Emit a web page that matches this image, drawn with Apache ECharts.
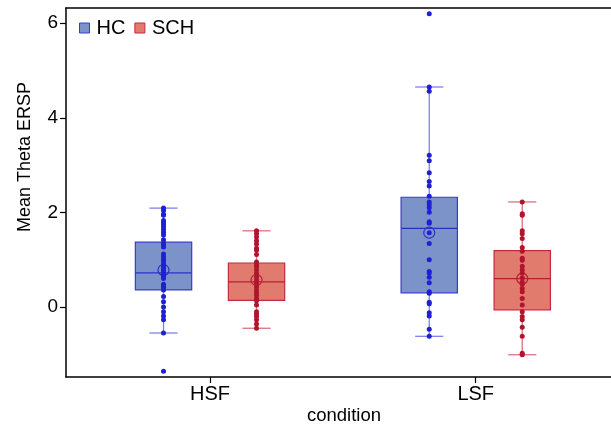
<!DOCTYPE html>
<html>
<head>
<meta charset="utf-8">
<script src="https://cdn.jsdelivr.net/npm/echarts@6/dist/echarts.min.js"></script>
<style>html,body{margin:0;padding:0;background:#fff}#c{width:611px;height:429px}</style>
</head>
<body>
<div id="c"></div>
<script>
const categories = ['HSF', 'LSF'];
const groups = ['HC', 'SCH'];
const yTicks = [0, 2, 4, 6];

// individual subject values
const hcHSF = [2.09, 2.04, 1.96, 1.94, 1.83, 1.78, 1.74, 1.69, 1.64, 1.58, 1.52, 1.42, 1.35, 1.31, 1.27, 1.12, 1.06, 1.01, 0.97, 0.91, 0.86, 0.81, 0.76, 0.69, 0.65, 0.60, 0.48, 0.45, 0.41, 0.36, 0.22, 0.11, 0.00, -0.10, -0.19, -0.27, -0.55, -1.36];
const hcLSF = [6.20, 4.65, 4.56, 3.21, 3.09, 2.84, 2.65, 2.56, 2.34, 2.22, 2.16, 2.10, 2.00, 1.80, 1.77, 1.57, 1.34, 1.00, 0.75, 0.72, 0.63, 0.51, 0.32, 0.29, 0.10, 0.07, -0.12, -0.19, -0.47, -0.62];
const schHSF = [1.61, 1.55, 1.48, 1.40, 1.33, 1.24, 1.20, 1.11, 0.95, 0.89, 0.85, 0.78, 0.71, 0.64, 0.57, 0.50, 0.43, 0.36, 0.30, 0.25, 0.18, 0.13, 0.04, -0.10, -0.15, -0.20, -0.27, -0.36, -0.45];
const schLSF = [2.22, 1.97, 1.94, 1.61, 1.55, 1.45, 1.26, 1.18, 1.03, 0.99, 0.86, 0.78, 0.72, 0.62, 0.53, 0.48, 0.39, 0.32, 0.18, 0.04, -0.10, -0.20, -0.27, -0.43, -0.62, -0.98, -1.01];

// box statistics per condition: [lower whisker, Q1, median, Q3, upper whisker]
const hcBox = [[-0.55, 0.36, 0.72, 1.37, 2.09], [-0.62, 0.30, 1.66, 2.32, 4.65]];
const schBox = [[-0.45, 0.14, 0.53, 0.93, 1.61], [-1.01, -0.06, 0.60, 1.19, 2.22]];
const hcMean = [0.78, 1.57];
const schMean = [0.57, 0.60];

const hcPoints = [hcHSF, hcLSF];
const schPoints = [schHSF, schLSF];

// layout / style
const DODGE = 0.175;
const BOX_W = 0.212;
const FONT = 'Liberation Sans, Arial, sans-serif';
const styles = {
  HC: { fill: '#7b93c9', border: '#3a3ad0', median: '#2f2fc8', whisker: '#8080ec', point: '#1f1fd8' },
  SCH: { fill: '#e07b6e', border: '#c42a3c', median: '#b81f33', whisker: '#da7280', point: '#b0152c' }
};

function boxData(box, mean, off) {
  return box.map((b, i) => [i + 1 + off].concat(b).concat([mean[i]]));
}
function pointData(pts, off) {
  const out = [];
  pts.forEach((arr, i) => arr.forEach(v => out.push([i + 1 + off, v])));
  return out;
}
function makeRender(st) {
  return function (params, api) {
    const x = api.value(0);
    const p = [1, 2, 3, 4, 5, 6].map(k => api.coord([x, api.value(k)]));
    const cx = p[0][0];
    const hw = api.size([BOX_W, 0])[0] / 2;
    const cw = hw / 2;
    const wl = { stroke: st.whisker, lineWidth: 1.3 };
    return {
      type: 'group',
      children: [
        { type: 'line', shape: { x1: cx, y1: p[0][1], x2: cx, y2: p[1][1] }, style: wl },
        { type: 'line', shape: { x1: cx, y1: p[3][1], x2: cx, y2: p[4][1] }, style: wl },
        { type: 'line', shape: { x1: cx - cw, y1: p[0][1], x2: cx + cw, y2: p[0][1] }, style: wl },
        { type: 'line', shape: { x1: cx - cw, y1: p[4][1], x2: cx + cw, y2: p[4][1] }, style: wl },
        { type: 'rect', shape: { x: cx - hw, y: p[3][1], width: 2 * hw, height: p[1][1] - p[3][1] },
          style: { fill: st.fill, stroke: st.border, lineWidth: 1.2 } },
        { type: 'line', shape: { x1: cx - hw, y1: p[2][1], x2: cx + hw, y2: p[2][1] },
          style: { stroke: st.median, lineWidth: 1.3 } },
        { type: 'circle', shape: { cx: cx, cy: p[5][1], r: 5.5 },
          style: { fill: null, stroke: st.median, lineWidth: 1.2 } }
      ]
    };
  };
}

const axisLineStyle = { color: '#000', width: 1.5 };
const chart = echarts.init(document.getElementById('c'), null, { renderer: 'canvas' });
chart.setOption({
  animation: false,
  backgroundColor: '#fff',
  grid: { left: 66, right: 0, top: 8, bottom: 52, show: false },
  legend: {
    left: 74, top: 13, itemWidth: 10, itemHeight: 10, itemGap: 9,
    textStyle: { fontSize: 20, fontFamily: FONT, color: '#000', padding: [0, 0, 0, 2] },
    data: groups.map(g => ({ name: g, icon: 'rect', itemStyle: { color: styles[g].fill, borderColor: styles[g].border, borderWidth: 1 } }))
  },
  xAxis: [{
    type: 'value', min: 0.458, max: 2.509, position: 'bottom',
    axisLine: { show: true, onZero: false, lineStyle: axisLineStyle },
    splitLine: { show: false },
    axisTick: { show: true, length: 6, customValues: [1, 2], lineStyle: { color: '#000', width: 1.2 } },
    axisLabel: { customValues: [1, 2], formatter: v => categories[Math.round(v) - 1], fontSize: 20, fontFamily: FONT, color: '#000', margin: 7 }
  }, {
    type: 'value', min: 0.458, max: 2.509, position: 'top',
    axisLine: { show: true, onZero: false, lineStyle: axisLineStyle },
    splitLine: { show: false }, axisTick: { show: false }, axisLabel: { show: false }
  }],
  yAxis: {
    type: 'value', min: -1.48, max: 6.32,
    axisLine: { show: true, onZero: false, lineStyle: axisLineStyle },
    splitLine: { show: false },
    axisTick: { show: true, length: 6, customValues: yTicks, lineStyle: { color: '#000', width: 1.2 } },
    axisLabel: { customValues: yTicks, fontSize: 19, fontFamily: FONT, color: '#000', margin: 8 }
  },
  graphic: [
    { type: 'text', x: 25, y: 157, rotation: Math.PI / 2,
      style: { text: 'Mean Theta ERSP', fontSize: 18, fontFamily: FONT, fill: '#000', align: 'center', verticalAlign: 'middle' } },
    { type: 'text', x: 344, y: 416,
      style: { text: 'condition', fontSize: 18.5, fontFamily: FONT, fill: '#000', align: 'center', verticalAlign: 'middle' } }
  ],
  series: [
    { name: 'HC', type: 'custom', z: 2, renderItem: makeRender(styles.HC), data: boxData(hcBox, hcMean, -DODGE),
      itemStyle: { color: styles.HC.fill }, encode: { x: 0, y: [1, 2, 3, 4, 5] } },
    { name: 'SCH', type: 'custom', z: 2, renderItem: makeRender(styles.SCH), data: boxData(schBox, schMean, DODGE),
      itemStyle: { color: styles.SCH.fill }, encode: { x: 0, y: [1, 2, 3, 4, 5] } },
    { name: 'HC', type: 'scatter', z: 3, symbolSize: 5, data: pointData(hcPoints, -DODGE),
      itemStyle: { color: styles.HC.point, opacity: 1 } },
    { name: 'SCH', type: 'scatter', z: 3, symbolSize: 5, data: pointData(schPoints, DODGE),
      itemStyle: { color: styles.SCH.point, opacity: 1 } }
  ]
});
</script>
</body>
</html>
